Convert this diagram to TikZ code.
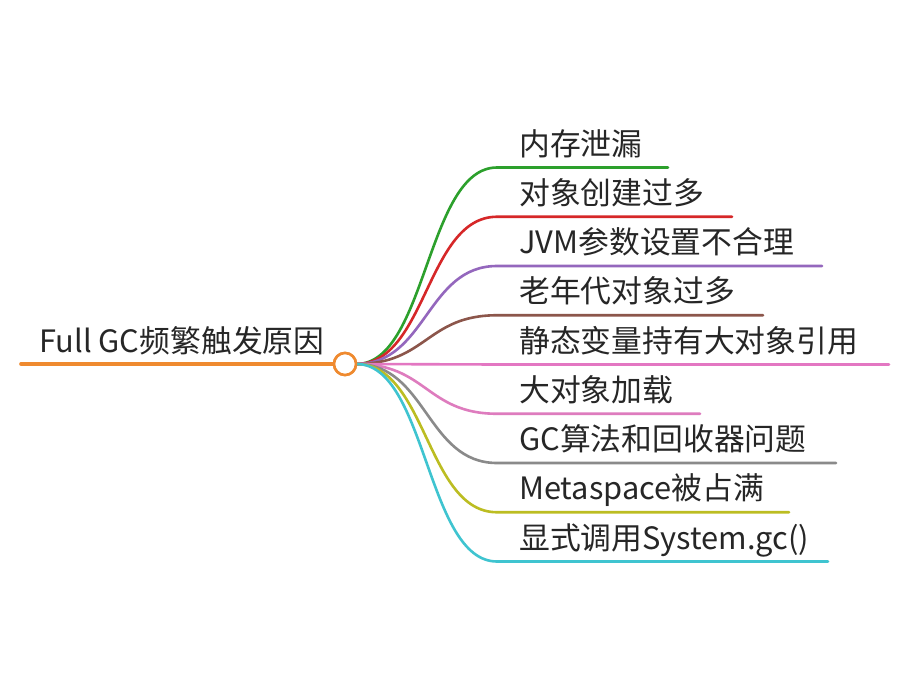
\documentclass[tikz,border=0pt]{standalone}
\usepackage{fontspec}
\setmainfont{Noto Sans CJK SC}
\definecolor{cRoot}{HTML}{EF8A2F}
\definecolor{cGreen}{HTML}{2CA02C}
\definecolor{cRed}{HTML}{D62728}
\definecolor{cPurple}{HTML}{9467BD}
\definecolor{cBrown}{HTML}{8C564B}
\definecolor{cPink}{HTML}{E377C2}
\definecolor{cPinkB}{HTML}{DE7CBE}
\definecolor{cGray}{HTML}{8A8A8A}
\definecolor{cOlive}{HTML}{BCBD22}
\definecolor{cCyan}{HTML}{3FC4D0}
\begin{document}
\begin{tikzpicture}[x=1pt,y=-1pt,
  lbl/.style={anchor=base west,inner sep=0pt,font=\fontsize{30.8}{36}\selectfont,text=black!85},
  branch/.style={line width=2.6pt,line cap=round},
]
\useasboundingbox[fill=white] (0,0) rectangle (909,690);
% root
\node[lbl] (root) at (39,352.5) {Full GC频繁触发原因};
\coordinate (rootL) at (21,364);
\node[circle,draw=cRoot,fill=white,line width=2.6pt,minimum size=22pt,inner sep=0pt] (hub) at (345,364) {};
\draw[line width=3.6pt,cRoot,line cap=round] (rootL) -- (hub.west);
\coordinate (src) at (356.5,364);
\foreach \i/\y/\xe/\col/\txt in {
  1/167.5/668/cGreen/内存泄漏,
  2/216.75/732/cRed/对象创建过多,
  3/266/822/cPurple/JVM参数设置不合理,
  4/315.25/763/cBrown/老年代对象过多,
  5/364.5/889/cPink/静态变量持有大对象引用,
  6/413.75/700/cPinkB/大对象加载,
  7/463/836/cGray/GC算法和回收器问题,
  8/512.25/789/cOlive/Metaspace被占满,
  9/561.5/828/cCyan/显式调用System.gc()}
{
  \coordinate (s\i) at (497,\y);
  \coordinate (e\i) at (\xe,\y);
  \node[lbl] (t\i) at (519,\y-12.5) {\txt};
  \draw[branch,\col] (src) .. controls (426.5,364) and (426.5,\y) .. (s\i) -- (e\i);
}
\node[circle,draw=cRoot,fill=white,line width=2.6pt,minimum size=22pt,inner sep=0pt] at (hub) {};
\end{tikzpicture}
\end{document}
